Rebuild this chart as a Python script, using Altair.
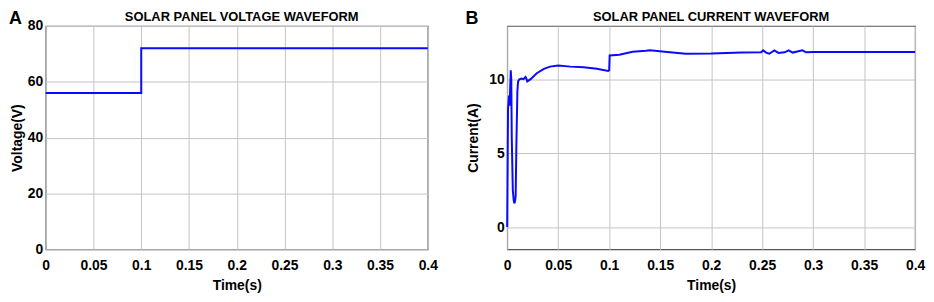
import altair as alt
import pandas as pd

# ---- data ----
time_v = [0.0, 0.1, 0.1, 0.4]
voltage = [56, 56, 72, 72]

time_i = [0.0, 0.0004, 0.0008, 0.0012, 0.0018, 0.0024, 0.0030, 0.0035, 0.0040, 0.0045,
          0.0055, 0.0064, 0.0070, 0.0078, 0.0083, 0.0090, 0.0100, 0.0107, 0.0120, 0.0140,
          0.0160, 0.0180, 0.0190, 0.0197, 0.0230, 0.0290, 0.0360, 0.0420, 0.0500, 0.0620,
          0.0750, 0.0880, 0.0990, 0.1000, 0.1005, 0.1100, 0.1230, 0.1360, 0.1400, 0.1520,
          0.1750, 0.2000, 0.2300, 0.2490, 0.2510, 0.2540, 0.2570, 0.2620, 0.2660, 0.2720,
          0.2760, 0.2800, 0.2895, 0.2930, 0.3000, 0.4000]
current = [0.0, 4.0, 8.0, 8.3, 8.9, 8.2, 9.5, 10.6, 10.0, 6.0,
           2.5, 1.8, 1.6, 1.8, 2.1, 5.5, 9.2, 9.85, 10.0, 10.05,
           10.0, 10.15, 10.0, 9.85, 10.0, 10.4, 10.7, 10.85, 10.92, 10.85,
           10.8, 10.7, 10.55, 10.6, 11.6, 11.65, 11.85, 11.92, 11.95, 11.88,
           11.72, 11.73, 11.8, 11.82, 11.95, 11.8, 11.72, 11.95, 11.78, 11.82,
           11.95, 11.8, 11.95, 11.82, 11.84, 11.84]

x_ticks = [0, 0.05, 0.1, 0.15, 0.2, 0.25, 0.3, 0.35, 0.4]
v_ticks = [0, 20, 40, 60, 80]
i_ticks = [0, 5, 10]

FONT = "Liberation Sans"
LINE = "#0a0aff"

dv = pd.DataFrame({"t": time_v, "v": voltage, "idx": range(len(time_v))})
di = pd.DataFrame({"t": time_i, "v": current, "idx": range(len(time_i))})


def axis_x():
    return alt.Axis(values=x_ticks, format="~g", title="Time(s)", grid=True,
                    labelFlush=False, tickSize=0, labelPadding=9, titlePadding=7)


def panel(df, ydom, yticks, ytitle, title, letter, w, h, letter_x, title_dx, ytp):
    line = alt.Chart(df).mark_line(color=LINE, strokeWidth=2).encode(
        x=alt.X("t:Q", scale=alt.Scale(domain=[0, 0.4], nice=False), axis=axis_x()),
        y=alt.Y("v:Q", scale=alt.Scale(domain=ydom, nice=False, zero=False),
                axis=alt.Axis(values=yticks, title=ytitle, grid=True, tickSize=0,
                              labelPadding=3, titlePadding=ytp, labelFlush=False)),
        order="idx:Q",
    )
    lab = alt.Chart(pd.DataFrame({"s": [letter]})).mark_text(
        font=FONT, fontWeight="bold", fontSize=18, align="left",
        baseline="alphabetic", color="black"
    ).encode(text="s:N", x=alt.value(letter_x), y=alt.value(-2))
    ttl = alt.Chart(pd.DataFrame({"s": [title]})).mark_text(
        font=FONT, fontWeight="bold", fontSize=13, align="center",
        baseline="alphabetic", color="black"
    ).encode(text="s:N", x=alt.value(w / 2 + title_dx), y=alt.value(-5))
    return alt.layer(line, lab, ttl).properties(width=w, height=h)


a = panel(dv, [0, 80], v_ticks, "Voltage(V)", "SOLAR PANEL VOLTAGE WAVEFORM", "A",
          385, 225, -37, 5, 3)
b = panel(di, [-1.5, 13.6], i_ticks, "Current(A)", "SOLAR PANEL CURRENT WAVEFORM", "B",
          411, 225, -42, 0, 8)

chart = alt.hconcat(a, b, spacing=80, bounds="flush").configure_view(
    stroke="#555555", strokeWidth=1.2
).configure_axis(
    labelFont=FONT, titleFont=FONT, labelFontSize=14, titleFontSize=14,
    labelFontWeight="bold", titleFontWeight="bold", labelColor="black",
    titleColor="black", gridColor="#c4c4c4", gridOpacity=1, domain=False
).properties(padding=0, background="white")

chart.save("out.html", embed_options={"renderer": "svg", "actions": False})
